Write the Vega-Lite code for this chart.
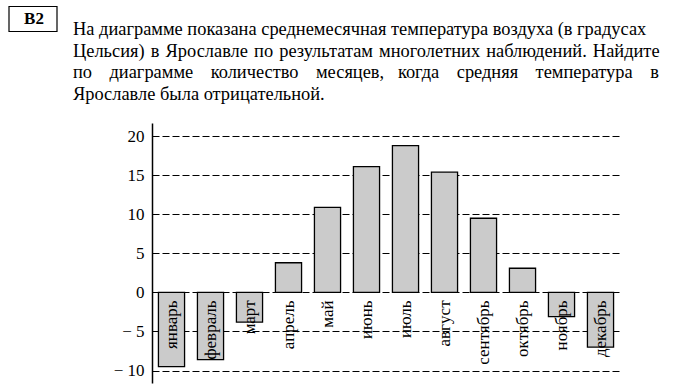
{
  "$schema": "https://vega.github.io/schema/vega-lite/v6.json",
  "width": 468,
  "height": 260,
  "autosize": "none",
  "padding": {"left": 152, "top": 123, "right": 56, "bottom": 9},
  "background": "white",
  "title": {
    "text": [
      "На диаграмме показана среднемесячная температура воздуха (в градусах",
      "Цельсия)\u200a в\u200a Ярославле\u200a по\u200a результатам\u200a многолетних\u200a наблюдений.\u200a Найдите",
      "по\u00a0\u00a0\u2009 диаграмме\u00a0\u00a0\u2009 количество\u00a0\u00a0\u2009 месяцев,\u00a0\u00a0 когда\u00a0\u00a0\u2009 средняя\u00a0\u00a0\u2009 температура\u00a0\u00a0\u2009 в",
      "Ярославле была отрицательной."
    ],
    "anchor": "start",
    "frame": "group",
    "orient": "top",
    "font": "Liberation Serif",
    "fontSize": 18.4,
    "fontWeight": "normal",
    "color": "black",
    "lineHeight": 21.5,
    "dx": -79,
    "offset": 0,
    "dy": 109
  },
  "data": {
    "values": [
      {"month": "январь", "t": -9.5},
      {"month": "февраль", "t": -8.6},
      {"month": "март", "t": -3.8},
      {"month": "апрель", "t": 3.8},
      {"month": "май", "t": 10.9},
      {"month": "июнь", "t": 16.1},
      {"month": "июль", "t": 18.8},
      {"month": "август", "t": 15.4},
      {"month": "сентябрь", "t": 9.5},
      {"month": "октябрь", "t": 3.1},
      {"month": "ноябрь", "t": -3.1},
      {"month": "декабрь", "t": -7.0}
    ]
  },
  "encoding": {
    "x": {
      "field": "month",
      "type": "nominal",
      "sort": null,
      "scale": {"paddingInner": 0.33, "paddingOuter": 0.165},
      "axis": null
    }
  },
  "layer": [
    {
      "mark": {"type": "bar", "fill": "#cbcbcb", "stroke": "black", "strokeWidth": 1.3},
      "encoding": {
        "y": {
          "field": "t",
          "type": "quantitative",
          "scale": {"domain": [-11.6, 21.7], "nice": false, "zero": false},
          "axis": {
            "values": [-10, -5, 0, 5, 10, 15, 20],
            "title": null,
            "grid": true,
            "gridColor": "black",
            "gridDash": [7, 3],
            "gridWidth": 1,
            "gridOpacity": 1,
            "ticks": false,
            "domainColor": "black",
            "domainWidth": 1.5,
            "labelFont": "Liberation Serif",
            "labelFontSize": 17,
            "labelColor": "black",
            "labelPadding": 8,
            "labelExpr": "datum.value < 0 ? '− ' + abs(datum.value) : datum.label"
          }
        }
      }
    },
    {
      "mark": {"type": "rule", "strokeWidth": 1.5},
      "encoding": {
        "y": {"datum": 0},
        "stroke": {
          "datum": "В2",
          "scale": {"range": ["black"]},
          "legend": {
            "orient": "none",
            "legendX": -144,
            "legendY": -129,
            "title": null,
            "padding": 0,
            "symbolType": "M-1,-0.52H1V0.52H-1Z",
            "symbolSize": 2304,
            "symbolStrokeWidth": 1.2,
            "symbolFillColor": "white",
            "labelFont": "Liberation Serif",
            "labelFontWeight": "bold",
            "labelFontSize": 17,
            "labelColor": "black",
            "labelAlign": "center",
            "labelOffset": -24
          }
        }
      }
    },
    {
      "mark": {
        "type": "text",
        "angle": 270,
        "align": "right",
        "baseline": "middle",
        "dx": -8,
        "font": "Liberation Serif",
        "fontSize": 17,
        "color": "black"
      },
      "encoding": {
        "y": {"datum": 0},
        "text": {"field": "month"}
      }
    }
  ],
  "config": {"view": {"stroke": null}}
}
